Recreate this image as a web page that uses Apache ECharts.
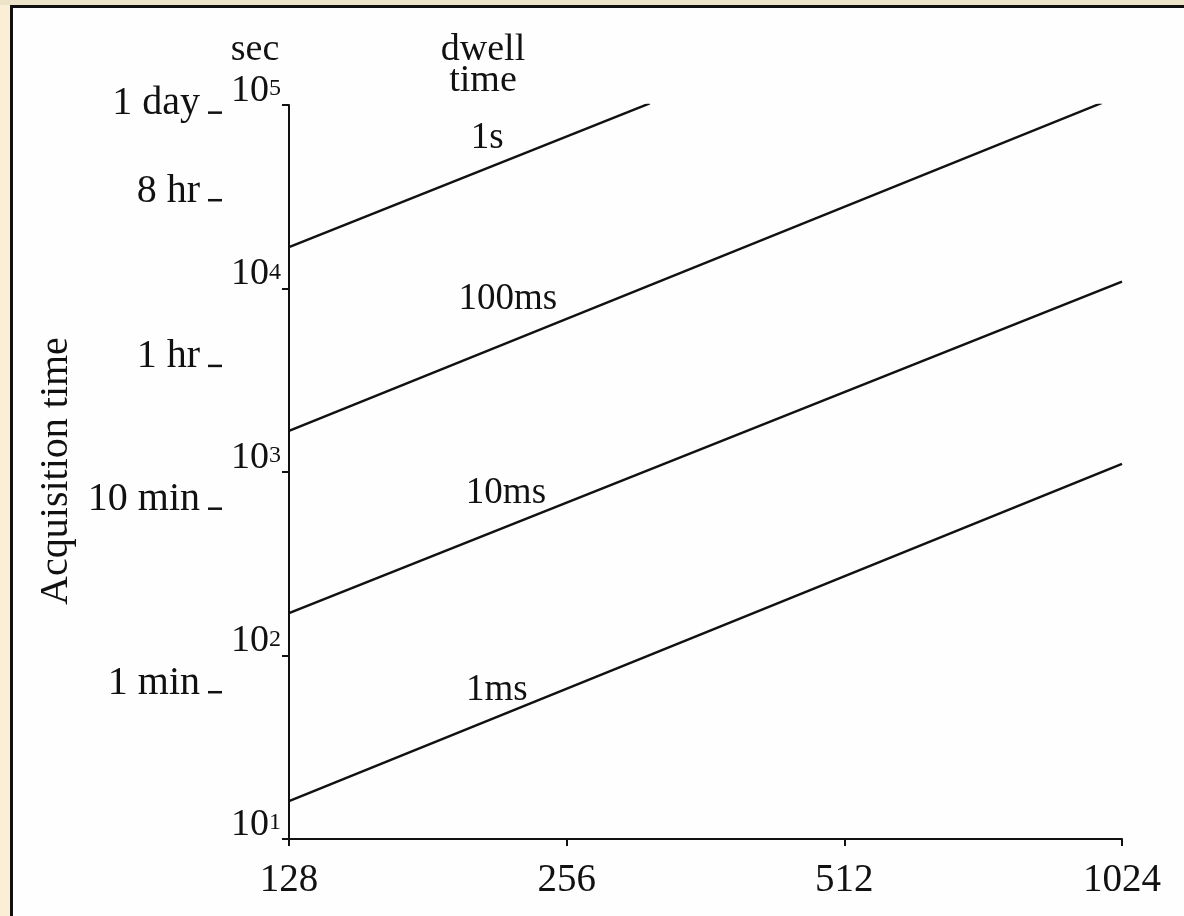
<!DOCTYPE html>
<html><head><meta charset="utf-8">
<script src="https://cdn.jsdelivr.net/npm/echarts@6/dist/echarts.min.js"></script>
<style>html,body{margin:0;padding:0;background:#fbeed6}#c{width:1184px;height:916px}</style>
</head><body><div id="c"></div><script>
// matrix size N (x) vs acquisition time in seconds (y), one line per dwell time
const line1s    = [[128, 16800], [315, 102000]];
const line100ms = [[128, 1675],  [974, 102600]];
const line10ms  = [[128, 170],   [1024, 10900]];
const line1ms   = [[128, 16.1],  [1024, 1107]];
const dwellNames = ['1s', '100ms', '10ms', '1ms'];
const dwellLabelN = [210, 221, 220, 215];
const dwellLabelT = [69500, 9160, 807, 67.8];
const timeNames = ['1 day', '8 hr', '1 hr', '10 min', '1 min'];
const timeSeconds = [86400, 28800, 3600, 600, 60];

const FONT = 'Liberation Serif';
const INK = '#111';
const chart = echarts.init(document.getElementById('c'));
const lineSeries = [line1s, line100ms, line10ms, line1ms].map(d => ({
  type: 'line', data: d, symbol: 'none', silent: true,
  lineStyle: {color: INK, width: 2.5}
}));
chart.setOption({
  animation: false,
  backgroundColor: '#fbeed6',
  graphic: [
    {type: 'rect', z: -10, shape: {x: 11, y: 6, width: 1173, height: 910}, style: {fill: '#fefefe'}},
    {type: 'rect', z: -9, shape: {x: 0, y: 0, width: 1184, height: 5}, style: {fill: '#ece3c9'}},
    {type: 'line', z: -8, shape: {x1: 10, y1: 6.5, x2: 1184, y2: 6.5}, style: {stroke: INK, lineWidth: 3}},
    {type: 'line', z: -8, shape: {x1: 11.5, y1: 5, x2: 11.5, y2: 916}, style: {stroke: INK, lineWidth: 3}},
    {type: 'text', x: 255, y: 50, style: {text: 'sec', font: '38px "' + FONT + '"', fill: INK, align: 'center', verticalAlign: 'middle'}},
    {type: 'text', x: 483, y: 69, style: {text: 'dwell', font: '38px "' + FONT + '"', fill: INK, align: 'center', verticalAlign: 'bottom'}},
    {type: 'text', x: 483, y: 100, style: {text: 'time', font: '38px "' + FONT + '"', fill: INK, align: 'center', verticalAlign: 'bottom'}},
    {type: 'text', x: 56, y: 471, rotation: Math.PI / 2, style: {text: 'Acquisition time', font: '40px "' + FONT + '"', fill: INK, align: 'center', verticalAlign: 'middle'}}
  ],
  grid: {left: 289, right: 62, top: 105, bottom: 77, containLabel: false, outerBoundsMode: 'none'},
  xAxis: {
    type: 'log', logBase: 2, min: 128, max: 1024,
    axisLine: {lineStyle: {color: INK, width: 2}},
    axisTick: {length: 7, lineStyle: {color: INK, width: 2}},
    splitLine: {show: false},
    axisLabel: {margin: 22, color: INK, fontFamily: FONT, fontSize: 39, formatter: v => String(Math.round(v))}
  },
  yAxis: {
    type: 'log', logBase: 10, min: 10, max: 100000,
    axisLine: {lineStyle: {color: INK, width: 2}},
    axisTick: {length: 7, lineStyle: {color: INK, width: 2}},
    splitLine: {show: false},
    axisLabel: {
      margin: 8, color: INK, verticalAlign: 'bottom',
      formatter: v => '{b|10}{s|' + Math.round(Math.log10(v)) + '}',
      rich: {
        b: {fontFamily: FONT, fontSize: 38, lineHeight: 28, color: INK},
        s: {fontFamily: FONT, fontSize: 24, lineHeight: 28, verticalAlign: 'top', color: INK}
      }
    }
  },
  series: lineSeries.concat([
    {
      type: 'scatter', silent: true, symbol: 'rect', symbolSize: [14, 2.5], symbolOffset: [-74, -4],
      itemStyle: {color: INK, opacity: 1},
      data: timeSeconds.map((t, i) => ({name: timeNames[i], value: [128, t]})),
      label: {show: true, position: 'left', distance: 8, offset: [0, -9], formatter: p => p.name,
              fontFamily: FONT, fontSize: 40, color: INK, opacity: 1}
    },
    {
      type: 'scatter', silent: true, symbolSize: 1, itemStyle: {color: 'rgba(0,0,0,0)', opacity: 1},
      data: dwellNames.map((n, i) => ({name: n, value: [dwellLabelN[i], dwellLabelT[i]]})),
      label: {show: true, position: 'inside', offset: [0, 4], formatter: p => p.name,
              fontFamily: FONT, fontSize: 37, color: INK, opacity: 1}
    }
  ])
});
</script></body></html>
